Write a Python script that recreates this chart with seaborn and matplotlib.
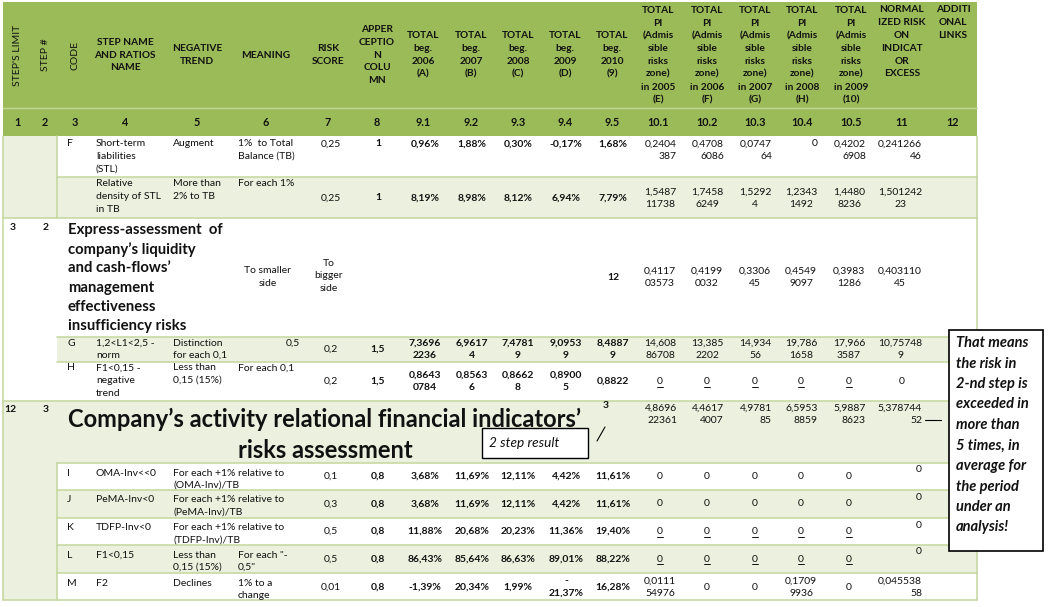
import matplotlib
matplotlib.use("Agg")
import matplotlib.pyplot as plt
from matplotlib.patches import Rectangle
import seaborn as sns

sns.set_theme(style="white")
plt.rcParams["font.family"] = ["Lato", "DejaVu Sans"]

# ---------------- data ----------------
header_labels = [
    "STEP'S LIMIT", "STEP #", "CODE", "STEP NAME\nAND RATIOS\nNAME", "NEGATIVE\nTREND",
    "MEANING", "RISK\nSCORE", "APPER\nCEPTIO\nN\nCOLU\nMN",
    "TOTAL\nbeg.\n2006\n(A)", "TOTAL\nbeg.\n2007\n(B)", "TOTAL\nbeg.\n2008\n(C)",
    "TOTAL\nbeg.\n2009\n(D)", "TOTAL\nbeg.\n2010\n(9)",
    "TOTAL\nPI\n(Admis\nsible\nrisks\nzone)\nin 2005\n(E)",
    "TOTAL\nPI\n(Admis\nsible\nrisks\nzone)\nin 2006\n(F)",
    "TOTAL\nPI\n(Admis\nsible\nrisks\nzone)\nin 2007\n(G)",
    "TOTAL\nPI\n(Admis\nsible\nrisks\nzone)\nin 2008\n(H)",
    "TOTAL\nPI\n(Admis\nsible\nrisks\nzone)\nin 2009\n(10)",
    "NORMAL\nIZED RISK\nON\nINDICAT\nOR\nEXCESS", "ADDITI\nONAL\nLINKS",
]
column_numbers = ["1", "2", "3", "4", "5", "6", "7", "8", "9.1", "9.2", "9.3", "9.4",
                  "9.5", "10.1", "10.2", "10.3", "10.4", "10.5", "11", "12"]

step_limits = ["", "", "3", "", "", "12", "", "", "", "", ""]
step_numbers = ["", "", "2", "", "", "3", "", "", "", "", ""]
codes = ["F", "", "", "G", "H", "", "I", "J", "K", "L", "M"]
ratio_names = ["Short-term\nliabilities\n(STL)", "Relative\ndensity of STL\nin TB", "",
               "1,2<L1<2,5 -\nnorm", "F1<0,15 -\nnegative\ntrend", "",
               "OMA-Inv<<0", "PeMA-Inv<0", "TDFP-Inv<0", "F1<0,15", "F2"]
negative_trends = ["Augment", "More than\n2% to TB", "", "Distinction\nfor each 0,1",
                   "Less than\n0,15 (15%)", "",
                   "For each +1% relative to\n(OMA-Inv)/TB",
                   "For each +1% relative to\n(PeMA-Inv)/TB",
                   "For each +1% relative to\n(TDFP-Inv)/TB",
                   "Less than\n0,15 (15%)", "Declines"]
meanings = ["1%  to Total\nBalance (TB)", "For each 1%", "To smaller\nside", "0,5",
            "For each 0,1", "", "", "", "", "For each \"-\n0,5\"", "1% to a\nchange"]
risk_scores = ["0,25", "0,25", "To\nbigger\nside", "0,2", "0,2", "", "0,1", "0,3",
               "0,5", "0,5", "0,01"]
apperception = ["1", "1", "", "1,5", "1,5", "", "0,8", "0,8", "0,8", "0,8", "0,8"]
step_titles = ["Express-assessment  of\ncompany\u2019s liquidity\nand cash-flows\u2019\n"
               "management\neffectiveness\ninsufficiency risks",
               "Company\u2019s activity relational financial indicators\u2019\nrisks assessment"]

total_beg_2006 = ["0,96%", "8,19%", "", "7,3696\n2236", "0,8643\n0784", "", "3,68%",
                  "3,68%", "11,88%", "86,43%", "-1,39%"]
total_beg_2007 = ["1,88%", "8,98%", "", "6,9617\n4", "0,8563\n6", "", "11,69%",
                  "11,69%", "20,68%", "85,64%", "20,34%"]
total_beg_2008 = ["0,30%", "8,12%", "", "7,4781\n9", "0,8662\n8", "", "12,11%",
                  "12,11%", "20,23%", "86,63%", "1,99%"]
total_beg_2009 = ["-0,17%", "6,94%", "", "9,0953\n9", "0,8900\n5", "", "4,42%",
                  "4,42%", "11,36%", "89,01%", "-\n21,37%"]
total_beg_2010 = ["1,68%", "7,79%", "12", "8,4887\n9", "0,8822", "3", "11,61%",
                  "11,61%", "19,40%", "88,22%", "16,28%"]

pi_2005 = ["0,2404\n387", "1,5487\n11738", "0,4117\n03573", "14,608\n86708", "0",
           "4,8696\n22361", "0", "0", "0", "0", "0,0111\n54976"]
pi_2006 = ["0,4708\n6086", "1,7458\n6249", "0,4199\n0032", "13,385\n2202", "0",
           "4,4617\n4007", "0", "0", "0", "0", "0"]
pi_2007 = ["0,0747\n64", "1,5292\n4", "0,3306\n45", "14,934\n56", "0",
           "4,9781\n85", "0", "0", "0", "0", "0"]
pi_2008 = ["0", "1,2343\n1492", "0,4549\n9097", "19,786\n1658", "0",
           "6,5953\n8859", "0", "0", "0", "0", "0,1709\n9936"]
pi_2009 = ["0,4202\n6908", "1,4480\n8236", "0,3983\n1286", "17,966\n3587", "0",
           "5,9887\n8623", "0", "0", "0", "0", "0"]
normalized_excess = ["0,241266\n46", "1,501242\n23", "0,403110\n45", "10,75748\n9", "0",
                     "5,378744\n52", "0", "0", "0", "0", "0,045538\n58"]
underlined_zero_rows = [4, 8, 9]

step_result_label = "2 step result"
callout_lines = ["That means", "the risk in", "2-nd step is", "exceeded in", "more than",
                 "5 times, in", "average for", "the period", "under an", "analysis!"]

# ---------------- layout ----------------
W, H = 1048, 607
HEAD = "#9bbb59"
LIGHT = "#ebf1de"
LINE = "#c3d69b"
TXT = "#111111"

X0, X1, XL = 3, 977, 57
row_edges = [136, 177, 218, 337, 362, 401, 463, 490, 518, 545, 573, 600]
col_centers = [17, 45, 75, 125, 197, 266, 328, 377, 423, 471, 518, 565, 612, 658, 707,
               755, 802, 851, 902, 953]
beg_centers = [425, 472, 518, 566, 613]
pi_centers = [660, 707, 755, 801, 849]
pi_right = [677, 724, 772, 818, 866]
NORM_C, NORM_R = 900, 922
text_first_y = [144, 184, 0, 343, 368, 0, 473, 500, 528, 555, 583]
value_anchor = [("top", 144), ("center", 198), ("center", 277), ("center", 349.5),
                ("center", 381.5), ("top", 408), ("center", 476.5), ("center", 504),
                ("center", 531.5), ("center", 559), ("center", 587)]
light_rows = [1, 3, 5, 7, 9]
FS = 7.5
HFS = 7.3
PITCH = 12.5

fig = plt.figure(figsize=(W / 100, H / 100), dpi=100)
ax = fig.add_axes([0, 0, 1, 1])
ax.set_xlim(0, W)
ax.set_ylim(H, 0)
ax.axis("off")


def put(x, y, s, anchor="top", ha="left", pitch=PITCH, size=FS, **kw):
    lines = s.split("\n")
    if anchor == "center":
        y = y - (len(lines) - 1) * pitch / 2
    for i, ln in enumerate(lines):
        ax.text(x, y + i * pitch, ln, ha=ha, va="center", size=size, color=TXT, **kw)


# ---- backgrounds ----
ax.add_patch(Rectangle((X0, 2), X1 - X0, row_edges[0] - 2, fc=HEAD, ec="none"))
ax.plot([X0, X1], [108, 108], color="#c2d69a", lw=1.0)
for r in range(11):
    top, bot = row_edges[r], row_edges[r + 1]
    if r in light_rows:
        x_start = X0 if r == 5 else XL
        ax.add_patch(Rectangle((x_start, top), X1 - x_start, bot - top, fc=LIGHT, ec="none"))
# merged left cells
ax.add_patch(Rectangle((X0, row_edges[0]), XL - X0, row_edges[2] - row_edges[0], fc=LIGHT, ec="none"))
ax.add_patch(Rectangle((X0, row_edges[6]), XL - X0, row_edges[11] - row_edges[6], fc=LIGHT, ec="none"))

# ---- grid lines ----
full_lines = [218, 401, 600]
for yy in row_edges[1:]:
    xs = X0 if yy in full_lines else XL
    ax.plot([xs, X1], [yy, yy], color=LINE, lw=1.1)
ax.plot([X0, X0], [row_edges[0], 600], color=LINE, lw=1.1)
ax.plot([X1, X1], [row_edges[0], 600], color=LINE, lw=1.1)
ax.plot([XL, XL], [row_edges[0], row_edges[2]], color=LINE, lw=1.1)
ax.plot([XL, XL], [row_edges[6], 600], color=LINE, lw=1.1)

# ---- header ----
for i, lab in enumerate(header_labels):
    x = col_centers[i]
    if i < 3:
        ax.text(x, 55, lab, rotation=90, ha="center", va="center", size=7.5,
                color=TXT)
    elif i >= 18:
        put(x, 10, lab, anchor="top", ha="center", pitch=12.8, size=HFS, weight="bold")
    else:
        put(x, 55, lab, anchor="center", ha="center", pitch=12.8, size=HFS, weight="bold")
for i, num in enumerate(column_numbers):
    ax.text(col_centers[i], 123, num, ha="center", va="center", size=7.8,
            weight="bold", color=TXT)

# ---- body ----
beg_cols = [total_beg_2006, total_beg_2007, total_beg_2008, total_beg_2009, total_beg_2010]
pi_cols = [pi_2005, pi_2006, pi_2007, pi_2008, pi_2009]
for r in range(11):
    top = row_edges[r]
    ty = text_first_y[r]
    va_mode, vy = value_anchor[r]
    if step_limits[r]:
        put(16, top + 9, step_limits[r], ha="right", weight="bold")
        put(49, top + 9, step_numbers[r], ha="right", weight="bold")
    if codes[r]:
        put(67, ty, codes[r])
    if ratio_names[r]:
        put(96, ty, ratio_names[r])
    if negative_trends[r]:
        put(173, ty, negative_trends[r])
    if meanings[r]:
        if r == 2:
            put(268, 277, meanings[r], anchor="center", ha="center")
        elif r == 3:
            put(300, ty, meanings[r], ha="right")
        else:
            put(238, ty, meanings[r])
    if risk_scores[r]:
        if r == 2:
            put(329, 276, risk_scores[r], anchor="center", ha="center")
        else:
            put(331, vy, risk_scores[r], anchor=va_mode, ha="center")
    if apperception[r]:
        put(378, vy, apperception[r], anchor=va_mode, ha="center", weight="bold")
    for k, col in enumerate(beg_cols):
        v = col[r]
        if not v:
            continue
        if r == 5:
            put(606, 405, v, ha="center", weight="bold")
        else:
            put(beg_centers[k], vy, v, anchor=va_mode, ha="center", weight="bold")
    for k, col in enumerate(pi_cols):
        v = col[r]
        if r in (0, 5):
            put(pi_right[k], vy, v, anchor=va_mode, ha="right")
        else:
            put(pi_centers[k], vy, v, anchor=va_mode, ha="center")
            if r in underlined_zero_rows:
                ax.plot([pi_centers[k] - 3, pi_centers[k] + 3], [vy + 5, vy + 5],
                        color=TXT, lw=0.7)
    v = normalized_excess[r]
    if r in (0, 5, 10):
        put(NORM_R, vy, v, anchor=va_mode, ha="right")
    elif r >= 6:
        put(NORM_R, top + 7, v, ha="right")
    else:
        put(NORM_C + (2 if r == 4 else 0), vy, v, anchor=va_mode, ha="center")

# ---- big step titles ----
put(68, 230, step_titles[0], pitch=19.2, size=10.7, weight="bold")
put(325, 419, step_titles[1], ha="center", pitch=31, size=17, weight="bold")

# ---- annotations ----
ax.add_patch(Rectangle((482, 428), 106, 30, fc="white", ec="black", lw=1.0, zorder=5))
ax.text(489, 443, step_result_label, ha="left", va="center", size=9.8, style="italic",
        color=TXT, zorder=6)
ax.plot([597, 605], [441, 427], color="black", lw=0.8)

ax.add_patch(Rectangle((949, 330), 94, 221, fc="white", ec="black", lw=1.2, zorder=5))
for i, ln in enumerate(callout_lines):
    ax.text(956, 343 + i * 20.5, ln, ha="left", va="center", size=10.5, weight="bold",
            style="italic", color=TXT, zorder=6)
ax.plot([925, 941], [420, 420], color="black", lw=0.8)

fig.savefig("out.png", dpi=100)
